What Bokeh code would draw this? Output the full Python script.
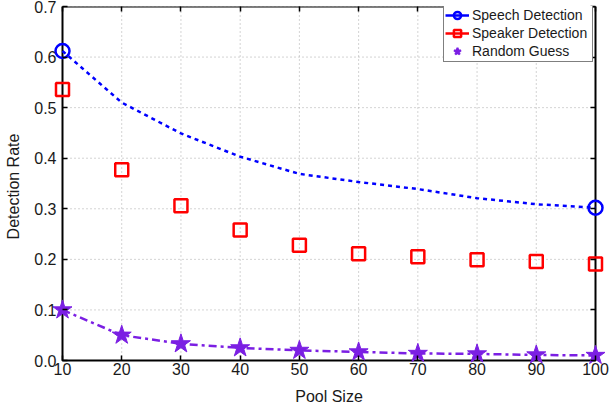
from bokeh.plotting import figure
from bokeh.models import (Legend, LegendItem, FixedTicker, NumeralTickFormatter,
                          ColumnDataSource, BoxAnnotation, LinearAxis)
from bokeh.embed import file_html
from bokeh.resources import INLINE

pool_size = [10, 20, 30, 40, 50, 60, 70, 80, 90, 100]
speech_detection = [0.612, 0.510, 0.449, 0.403, 0.369, 0.353, 0.339, 0.321, 0.309, 0.302]
speaker_detection = [0.536, 0.377, 0.306, 0.258, 0.228, 0.211, 0.205, 0.199, 0.196, 0.191]
random_guess = [0.100, 0.050, 0.033, 0.025, 0.020, 0.017, 0.014, 0.013, 0.011, 0.010]
x_ticks = [10, 20, 30, 40, 50, 60, 70, 80, 90, 100]
y_ticks = [0.0, 0.1, 0.2, 0.3, 0.4, 0.5, 0.6, 0.7]

BLUE = "#0000ff"
RED = "#ff0000"
PURPLE = "#7b1fe3"
FONT = "Liberation Sans"
TXT = "#1a1a1a"

X0, X1 = x_ticks[0], x_ticks[-1]
Y0, Y1 = y_ticks[0], y_ticks[-1]
# frame 51..606 px wide, 6..366 px high; data box 62..595 x 6..360 (pads keep edge markers whole)
PAD_L, PAD_R, PAD_B = 11, 11, 6
xs = (X1 - X0) / 533.0
ys = (Y1 - Y0) / 354.0

p = figure(width=609, height=410, output_backend="svg", toolbar_location=None,
           x_range=(X0 - PAD_L * xs, X1 + PAD_R * xs), y_range=(Y0 - PAD_B * ys, Y1),
           x_axis_location=None, y_axis_location=None,
           min_border_left=51, min_border_right=3, min_border_top=6, min_border_bottom=44)
p.background_fill_color = "white"
p.border_fill_color = "white"
p.outline_line_color = None
p.xgrid.visible = False
p.ygrid.visible = False

xaxis = LinearAxis(bounds=(X0, X1), ticker=FixedTicker(ticks=x_ticks), axis_label="Pool Size")
yaxis = LinearAxis(bounds=(Y0, Y1), ticker=FixedTicker(ticks=y_ticks),
                   formatter=NumeralTickFormatter(format="0.0"), axis_label="Detection Rate")
# top / right: tick marks only (minor ticks carry no labels)
xtop = LinearAxis(bounds=(X0, X1), ticker=FixedTicker(ticks=[], minor_ticks=x_ticks))
yright = LinearAxis(bounds=(Y0, Y1), ticker=FixedTicker(ticks=[], minor_ticks=y_ticks))

for ax in (xaxis, yaxis):
    ax.axis_line_color = None
    ax.major_tick_line_color = "black"
    ax.major_tick_line_width = 1.5
    ax.minor_tick_line_color = None
    ax.major_label_text_font = FONT
    ax.major_label_text_font_size = "16px"
    ax.major_label_text_color = TXT
    ax.axis_label_text_font = FONT
    ax.axis_label_text_font_size = "16px"
    ax.axis_label_text_font_style = "normal"
    ax.axis_label_text_color = TXT
for ax in (xtop, yright):
    ax.axis_line_color = None
    ax.major_tick_line_color = None
    ax.minor_tick_line_color = "black"
    ax.minor_tick_line_width = 1.5

# ticks start at the data box edge and point 5 px inward
xaxis.major_tick_out = -PAD_B
xaxis.major_tick_in = PAD_B + 5
yaxis.major_tick_out = -PAD_L
yaxis.major_tick_in = PAD_L + 5
yright.minor_tick_out = -PAD_R
yright.minor_tick_in = PAD_R + 5
xtop.minor_tick_out = 0
xtop.minor_tick_in = 5

xaxis.major_label_standoff = -4
xaxis.axis_label_standoff = 10
yaxis.major_label_standoff = -5
yaxis.axis_label_standoff = 9

p.add_layout(xaxis, "below")
p.add_layout(yaxis, "left")
p.add_layout(xtop, "above")
p.add_layout(yright, "right")

# dotted grid, only inside the data box
gx = ColumnDataSource(dict(x=x_ticks, y0=[Y0] * len(x_ticks), y1=[Y1] * len(x_ticks)))
gy = ColumnDataSource(dict(y=y_ticks, x0=[X0] * len(y_ticks), x1=[X1] * len(y_ticks)))
p.segment("x", "y0", "x", "y1", source=gx, line_color="#a8a8a8", line_width=1,
          line_dash="1 3", level="underlay")
p.segment("x0", "y", "x1", "y", source=gy, line_color="#a8a8a8", line_width=1,
          line_dash="1 3", level="underlay")

box = BoxAnnotation(left=X0, right=X1, bottom=Y0, top=Y1, fill_alpha=0, fill_color=None,
                    line_color="black", line_alpha=1, line_width=2, level="underlay")
p.add_layout(box)

src = ColumnDataSource(dict(x=pool_size, speech=speech_detection,
                            speaker=speaker_detection, rnd=random_guess))
ends = ColumnDataSource(dict(x=[pool_size[0], pool_size[-1]],
                             y=[speech_detection[0], speech_detection[-1]]))

p.line("x", "speech", source=src, line_color=BLUE, line_width=2.5, line_dash="4 4")
p.scatter("x", "y", source=ends, marker="circle", size=14, fill_color=None,
          line_color=BLUE, line_width=2.5)
p.scatter("x", "speaker", source=src, marker="square", size=13, fill_color=None,
          line_color=RED, line_width=2.5)
p.line("x", "rnd", source=src, line_color=PURPLE, line_width=2.5, line_dash="8 4 3 4")
p.scatter("x", "rnd", source=src, marker="star", size=20, fill_color=PURPLE,
          line_color=PURPLE, line_width=1)

# legend-only renderers (a single missing point, nothing drawn in the plot)
nan = float("nan")
dummy = ColumnDataSource(dict(x=[nan], y=[nan]))
l1 = p.line("x", "y", source=dummy, line_color=BLUE, line_width=2.5)
m1 = p.scatter("x", "y", source=dummy, marker="circle", fill_color=None,
               line_color=BLUE, line_width=2.5)
l2 = p.line("x", "y", source=dummy, line_color=RED, line_width=2.5)
m2 = p.scatter("x", "y", source=dummy, marker="square", fill_color=None,
               line_color=RED, line_width=2.5)
m3 = p.scatter("x", "y", source=dummy, marker="star", fill_color=PURPLE,
               line_color=PURPLE, line_width=2)

legend = Legend(items=[
    LegendItem(label="Speech Detection", renderers=[l1, m1]),
    LegendItem(label="Speaker Detection", renderers=[l2, m2]),
    LegendItem(label="Random Guess", renderers=[m3]),
], location=(392, 304))
legend.label_text_font = FONT
legend.label_text_font_size = "14px"
legend.label_text_color = TXT
legend.label_height = 18
legend.label_width = 119
legend.glyph_height = 18
legend.glyph_width = 24
legend.label_standoff = 3
legend.spacing = 0
legend.padding = 1
legend.margin = 0
legend.border_line_color = "black"
legend.border_line_width = 1.5
legend.background_fill_color = "white"
legend.background_fill_alpha = 1
p.add_layout(legend)

open("out.html", "w").write(file_html(p, INLINE))
